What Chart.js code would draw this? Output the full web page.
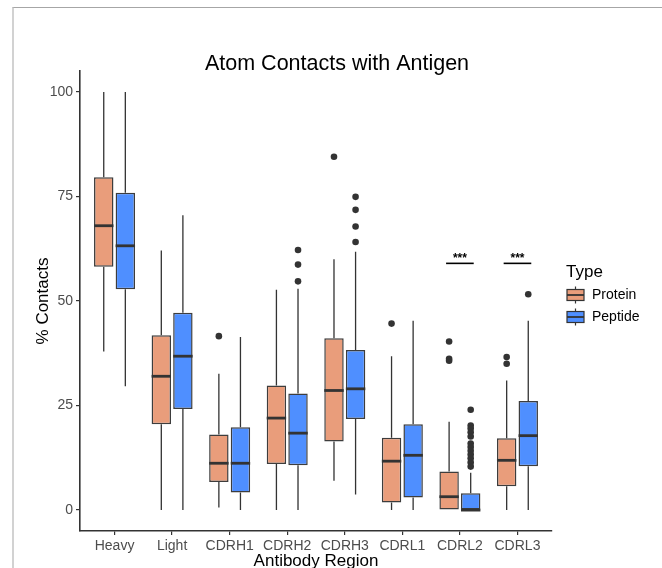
<!DOCTYPE html>
<html>
<head>
<meta charset="utf-8">
<script src="https://cdn.jsdelivr.net/npm/chart.js@4/dist/chart.umd.min.js"></script>
<style>
  html, body { margin: 0; padding: 0; background: #fff; overflow: hidden; }
  #wrap { position: relative; width: 662px; height: 600px; }
  #frame { position: absolute; left: 12px; top: 7px; right: 0; bottom: 0;
           border-top: 1px solid #a6a6a6; border-left: 2px solid #d2d2d2; pointer-events: none; }
  canvas { position: absolute; left: 0; top: 0; }
</style>
</head>
<body>
<div id="wrap">
  <canvas id="chart" width="662" height="600"></canvas>
  <div id="frame"></div>
</div>
<script>
/* ── data ── */
const categories = ['Heavy', 'Light', 'CDRH1', 'CDRH2', 'CDRH3', 'CDRL1', 'CDRL2', 'CDRL3'];
const yTicks = [0, 25, 50, 75, 100];

const proteinMin = [37.9, 0, 0.6, 0, 7.0, 0, 0, 0];
const proteinQ1  = [58.2, 20.5, 6.7, 11.0, 16.4, 1.8, 0, 5.7];
const proteinMed = [68.0, 32.0, 11.2, 22.0, 28.6, 11.7, 3.2, 11.9];
const proteinQ3  = [79.6, 41.8, 18.1, 29.8, 41.1, 17.3, 9.2, 17.2];
const proteinMax = [100, 62.1, 32.6, 52.7, 60.0, 36.8, 21.1, 31.0];
const proteinOutliers = [[], [], [41.6], [], [84.5], [44.6], [40.3, 36.2, 35.7], [36.6, 35.0]];

const peptideMin = [29.6, 0, 0, 0, 3.7, 0, 0, 0];
const peptideQ1  = [52.8, 24.2, 4.2, 10.7, 21.8, 3.0, 0, 10.5];
const peptideMed = [63.2, 36.8, 11.2, 18.4, 29.0, 13.1, 0, 17.8];
const peptideQ3  = [75.9, 47.2, 19.8, 27.9, 38.3, 20.5, 4.0, 26.1];
const peptideMax = [100, 70.5, 41.4, 52.9, 61.8, 45.3, 8.9, 45.3];
const peptideOutliers = [[], [], [], [62.2, 58.7, 54.7], [74.9, 71.8, 67.8, 64.1], [],
  [24.0, 20.2, 19.5, 18.6, 17.6, 15.9, 15.1, 14.2, 13.3, 12.4, 11.4, 10.4], [51.6]];

const sigCategories = ['CDRL2', 'CDRL3'];
const sigLabels = ['***', '***'];
const sigLevel = [59, 59];

/* ── look ── */
const FONT = '"Liberation Sans", Arial, Helvetica, sans-serif';
const colProtein = '#E99D7B';
const colPeptide = '#4F8FFF';
const ink = '#333333';

const stats = [
  { min: proteinMin, med: proteinMed, max: proteinMax, out: proteinOutliers },
  { min: peptideMin, med: peptideMed, max: peptideMax, out: peptideOutliers }
];

/* whiskers under the boxes, medians + outliers on top */
const boxPlot = {
  id: 'boxPlot',
  beforeDatasetsDraw(chart) {
    const { ctx, scales: { y } } = chart;
    ctx.save();
    ctx.strokeStyle = ink;
    ctx.lineWidth = 1.3;
    stats.forEach((s, d) => {
      chart.getDatasetMeta(d).data.forEach((bar, i) => {
        const q = chart.data.datasets[d].data[i].y;
        ctx.beginPath();
        ctx.moveTo(bar.x, y.getPixelForValue(s.max[i]));
        ctx.lineTo(bar.x, y.getPixelForValue(q[1]));
        ctx.moveTo(bar.x, y.getPixelForValue(q[0]));
        ctx.lineTo(bar.x, y.getPixelForValue(s.min[i]));
        ctx.stroke();
      });
    });
    ctx.restore();
  },
  afterDatasetsDraw(chart) {
    const { ctx, scales: { x, y } } = chart;
    ctx.save();
    stats.forEach((s, d) => {
      chart.getDatasetMeta(d).data.forEach((bar, i) => {
        const my = y.getPixelForValue(s.med[i]);
        ctx.strokeStyle = ink;
        ctx.lineWidth = 2.8;
        ctx.beginPath();
        ctx.moveTo(bar.x - bar.width / 2, my);
        ctx.lineTo(bar.x + bar.width / 2, my);
        ctx.stroke();
        ctx.fillStyle = ink;
        s.out[i].forEach(v => {
          ctx.beginPath();
          ctx.arc(bar.x, y.getPixelForValue(v), 3.3, 0, Math.PI * 2);
          ctx.fill();
        });
      });
    });

    /* significance bars */
    sigCategories.forEach((c, k) => {
      const ci = categories.indexOf(c) + 1;
      const yy = y.getPixelForValue(sigLevel[k]);
      ctx.strokeStyle = '#000';
      ctx.lineWidth = 1.6;
      ctx.beginPath();
      ctx.moveTo(x.getPixelForValue(ci - 0.24), yy);
      ctx.lineTo(x.getPixelForValue(ci + 0.24), yy);
      ctx.stroke();
      ctx.fillStyle = '#000';
      ctx.font = 'bold 12px ' + FONT;
      ctx.textAlign = 'center';
      ctx.textBaseline = 'alphabetic';
      ctx.fillText(sigLabels[k], x.getPixelForValue(ci), yy - 1);
    });
    ctx.restore();
  },
  afterDraw(chart) {
    const { ctx } = chart;
    ctx.save();
    /* title */
    ctx.fillStyle = '#000';
    ctx.font = '21.5px ' + FONT;
    ctx.textAlign = 'center';
    ctx.textBaseline = 'middle';
    ctx.fillText('Atom Contacts with Antigen', 337, 64);

    /* legend */
    ctx.textAlign = 'left';
    ctx.font = '17px ' + FONT;
    ctx.fillText('Type', 566, 272);
    chart.data.datasets.forEach((ds, k) => {
      const cy = 295 + k * 22, cx = 575.5;
      ctx.strokeStyle = ink;
      ctx.lineWidth = 1.2;
      ctx.beginPath();
      ctx.moveTo(cx, cy - 8.5); ctx.lineTo(cx, cy - 5.5);
      ctx.moveTo(cx, cy + 5.5); ctx.lineTo(cx, cy + 8.5);
      ctx.stroke();
      ctx.fillStyle = ds.backgroundColor;
      ctx.fillRect(567, cy - 5.5, 17, 11);
      ctx.strokeRect(567, cy - 5.5, 17, 11);
      ctx.lineWidth = 1.8;
      ctx.beginPath();
      ctx.moveTo(567, cy); ctx.lineTo(584, cy);
      ctx.stroke();
      ctx.fillStyle = '#000';
      ctx.font = '14px ' + FONT;
      ctx.fillText(ds.label, 592, cy);
    });
    ctx.restore();
  }
};

const mkData = (q1, q3) => categories.map((_, i) => ({ x: i + 1, y: [q1[i], q3[i]] }));

new Chart(document.getElementById('chart'), {
  type: 'bar',
  data: {
    datasets: [
      { label: 'Protein', data: mkData(proteinQ1, proteinQ3), backgroundColor: colProtein },
      { label: 'Peptide', data: mkData(peptideQ1, peptideQ3), backgroundColor: colPeptide }
    ]
  },
  options: {
    responsive: false,
    animation: false,
    categoryPercentage: 0.75,
    barPercentage: 0.9,
    borderColor: '#3d3d3d',
    borderWidth: 1.5,
    borderSkipped: false,
    layout: { padding: { top: 71, right: 110, left: 0, bottom: 0 } },
    plugins: { legend: { display: false }, title: { display: false }, tooltip: { enabled: false } },
    scales: {
      x: {
        type: 'linear', min: 0.4, max: 8.6, offset: false,
        afterBuildTicks: s => { s.ticks = categories.map((_, i) => ({ value: i + 1 })); },
        afterFit: s => { s.height = 69; },
        grid: { display: true, offset: false, drawOnChartArea: false, drawTicks: true, tickLength: 4, color: ink, lineWidth: 1.2 },
        border: { display: true, color: ink, width: 1.6 },
        ticks: { autoSkip: false, maxRotation: 0, padding: 3, color: '#4d4d4d',
                 font: { family: FONT, size: 14 }, callback: v => categories[v - 1] },
        title: { display: true, text: 'Antibody Region', color: '#000',
                 font: { family: FONT, size: 17 }, padding: { top: 0, bottom: 28 } }
      },
      y: {
        min: -5, max: 105,
        afterBuildTicks: s => { s.ticks = yTicks.map(v => ({ value: v })); },
        afterFit: s => { s.width = 80; },
        grid: { display: true, drawOnChartArea: false, drawTicks: true, tickLength: 4, color: ink, lineWidth: 1.2 },
        border: { display: true, color: ink, width: 1.6 },
        ticks: { padding: 3, color: '#4d4d4d', font: { family: FONT, size: 14 } },
        title: { display: true, text: '% Contacts', color: '#000',
                 font: { family: FONT, size: 17 }, padding: { top: 33, bottom: 0 } }
      }
    }
  },
  plugins: [boxPlot]
});
</script>
</body>
</html>
